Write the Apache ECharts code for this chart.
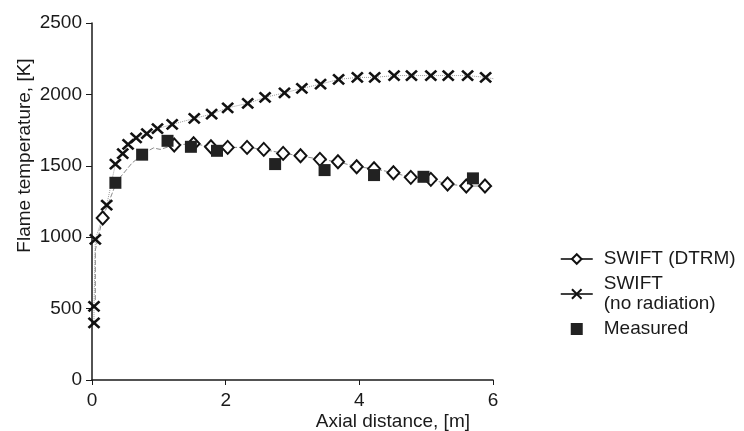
<!DOCTYPE html>
<html>
<head>
  <meta charset="utf-8">
  <script src="https://cdn.jsdelivr.net/npm/echarts@6/dist/echarts.min.js"></script>
</head>
<body style="margin:0">
  <div id="main" style="width: 744px; height: 431px"></div>
  <script type="text/javascript">
    // values: [axial distance m, temperature K]
    var dtrmPoints = [[0.05, 560], [0.05, 910], [0.16, 1135], [0.37, 1390], [0.6, 1520], [0.8, 1595],
      [0.92, 1625], [1.02, 1615], [1.23, 1645], [1.52, 1655], [1.78, 1633], [2.03, 1629], [2.32, 1629],
      [2.57, 1615], [2.86, 1587], [3.12, 1570], [3.41, 1545], [3.68, 1528], [3.96, 1493], [4.22, 1480],
      [4.51, 1451], [4.77, 1419], [5.07, 1405], [5.32, 1372], [5.60, 1358], [5.88, 1358], [6.12, 1350]];
    // points of the curve that carry no visible marker
    var dtrmNoMarker = [0, 1, 3, 4, 5, 6, 7, 26];

    var noRadPoints = [[0.03, 400], [0.03, 515], [0.05, 985], [0.22, 1225], [0.35, 1512], [0.46, 1585],
      [0.54, 1650], [0.66, 1695], [0.82, 1725], [0.98, 1760], [1.20, 1790], [1.53, 1832], [1.79, 1862],
      [2.03, 1906], [2.33, 1937], [2.59, 1979], [2.88, 2011], [3.14, 2042], [3.42, 2072], [3.69, 2105],
      [3.97, 2119], [4.23, 2119], [4.52, 2132], [4.78, 2132], [5.07, 2132], [5.33, 2132], [5.62, 2132],
      [5.89, 2119], [6.13, 2100]];
    var noRadNoMarker = [28];

    var measured = [[0.35, 1381], [0.75, 1578], [1.13, 1675], [1.48, 1633], [1.87, 1605], [2.74, 1512],
      [3.48, 1470], [4.22, 1435], [4.96, 1423], [5.70, 1412]];

    var xTicks = [0, 2, 4, 6];
    var yTicks = [0, 500, 1000, 1500, 2000, 2500];
    var legendNames = ['SWIFT (DTRM)', 'SWIFT\n(no radiation)', 'Measured'];

    var font = '"Liberation Sans", Arial, Helvetica, sans-serif';
    var ink = '#1a1a1a';

    function withMarkers(points, hidden) {
      return points.map(function (p, i) {
        return hidden.indexOf(i) >= 0 ? { value: p, symbol: 'none' } : p;
      });
    }

    var myChart = echarts.init(document.getElementById('main'));

    myChart.setOption({
      animation: false,
      backgroundColor: '#fff',
      textStyle: { fontFamily: font, color: ink },
      grid: { left: 92, right: 251, top: 23, bottom: 51, outerBoundsMode: 'none' },
      legend: {
        orient: 'vertical',
        left: 555,
        top: 244,
        itemGap: 5,
        itemWidth: 32,
        itemHeight: 12,
        data: [
          { name: legendNames[0] },
          { name: legendNames[1] },
          { name: legendNames[2], icon: 'path://M0,0H10V10H0Z' }
        ],
        symbolKeepAspect: true,
        textStyle: { fontSize: 19, lineHeight: 20, color: ink, fontFamily: font, padding: [0, 0, 0, 6] },
        lineStyle: { color: '#000', width: 1.5, type: 'solid' },
        inactiveColor: '#000'
      },
      xAxis: {
        type: 'value',
        min: 0,
        max: 6,
        interval: 2,
        name: 'Axial distance, [m]',
        nameLocation: 'end',
        nameGap: -23,
        nameMoveOverlap: false,
        nameTextStyle: { fontSize: 19, color: ink, align: 'right', verticalAlign: 'top', padding: [32, 0, 0, 0] },
        axisLine: { onZero: false, lineStyle: { color: ink, width: 1.5 } },
        axisTick: { length: 5, lineStyle: { color: ink } },
        axisLabel: { fontSize: 19, color: ink, margin: 11, customValues: xTicks, formatter: function (v) { return String(v); } },
        splitLine: { show: false }
      },
      yAxis: {
        type: 'value',
        min: 0,
        max: 2500,
        interval: 500,
        name: 'Flame temperature, [K]',
        nameLocation: 'middle',
        nameGap: 58,
        nameMoveOverlap: false,
        nameTextStyle: { fontSize: 19, color: ink, padding: [0, 0, 0, 92] },
        axisLine: { show: true, onZero: false, lineStyle: { color: ink, width: 1.5 } },
        axisTick: { show: true, length: 6, lineStyle: { color: ink } },
        axisLabel: { fontSize: 19, color: ink, margin: 10, customValues: yTicks, formatter: function (v) { return String(v); } },
        splitLine: { show: false }
      },
      series: [
        {
          name: legendNames[0],
          type: 'line',
          clip: false,
          symbol: 'emptyDiamond',
          symbolSize: [12, 13],
          lineStyle: { color: '#8a8a8a', width: 1, type: [5, 2] },
          itemStyle: { color: '#111', borderColor: '#111', borderWidth: 2 },
          data: withMarkers(dtrmPoints, dtrmNoMarker),
          z: 2
        },
        {
          name: legendNames[1],
          type: 'line',
          clip: false,
          symbol: 'path://M0,0L10,10M10,0L0,10',
          symbolSize: [11, 10],
          lineStyle: { color: '#9a9a9a', width: 1, type: 'dotted' },
          itemStyle: { color: '#111', borderColor: '#111', borderWidth: 2.5 },
          data: withMarkers(noRadPoints, noRadNoMarker),
          z: 2
        },
        {
          name: legendNames[2],
          type: 'scatter',
          symbol: 'rect',
          symbolSize: 12,
          itemStyle: { color: '#222', opacity: 1 },
          data: measured,
          z: 3
        }
      ]
    });
  </script>
</body>
</html>
